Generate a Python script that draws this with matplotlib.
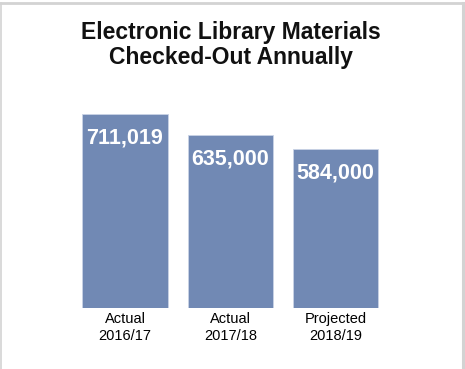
import matplotlib
matplotlib.use("Agg")
import matplotlib.pyplot as plt

categories = ["Actual\n2016/17", "Actual\n2017/18", "Projected\n2018/19"]
values = [711019, 635000, 584000]
value_labels = ["711,019", "635,000", "584,000"]
title = "Electronic Library Materials\nChecked-Out Annually"

W, H = 465, 369
fig = plt.figure(figsize=(W / 100, H / 100), dpi=100)
fig.patch.set_facecolor("white")

def fx(px): return px / W
def fy(py): return 1 - py / H
fig.add_artist(plt.Line2D([fx(0.8), fx(0.8)], [fy(2.5), fy(372)], color="#d3d3d3", lw=1.2, transform=fig.transFigure))
fig.add_artist(plt.Line2D([fx(0.8), fx(463)], [fy(2.5), fy(2.5)], color="#d3d3d3", lw=2.0, transform=fig.transFigure))
fig.add_artist(plt.Line2D([fx(463), fx(463)], [fy(2.5), fy(372)], color="#d3d3d3", lw=2.2, transform=fig.transFigure))

left_px, right_px = 61.8, 398.8
bottom_px = 308
ymax = 800000
height_px = 194.0 / 711019 * ymax
ax = fig.add_axes([fx(left_px), (H - bottom_px) / H, (right_px - left_px) / W, height_px / H])
x = range(len(values))
bars = ax.bar(x, values, width=0.81, color="#7189b4", edgecolor="#c9d3e6", linewidth=0.6)
ax.set_xlim(-0.6, 2.6)
ax.set_ylim(0, ymax)
for s in ax.spines.values():
    s.set_visible(False)
ax.set_yticks([])
ax.set_xticks(list(x))
ax.set_xticklabels(categories, fontsize=10.5, family="Liberation Sans", linespacing=1.3)
ax.tick_params(axis="x", length=0, pad=3)
ax.patch.set_alpha(0)

for b, lab in zip(bars, value_labels):
    ax.annotate(lab, (b.get_x() + b.get_width() / 2, b.get_height()),
                xytext=(0, -24 * 72 / 100), textcoords="offset points",
                ha="center", va="center", color="white", fontsize=15.5,
                fontweight="bold", family="Liberation Sans")

fig.text(fx(231), fy(45), title, ha="center", va="center", fontsize=16.5,
         fontweight="bold", family="Liberation Sans", linespacing=1.1, color="#111111")

fig.savefig("out.png", dpi=100)
